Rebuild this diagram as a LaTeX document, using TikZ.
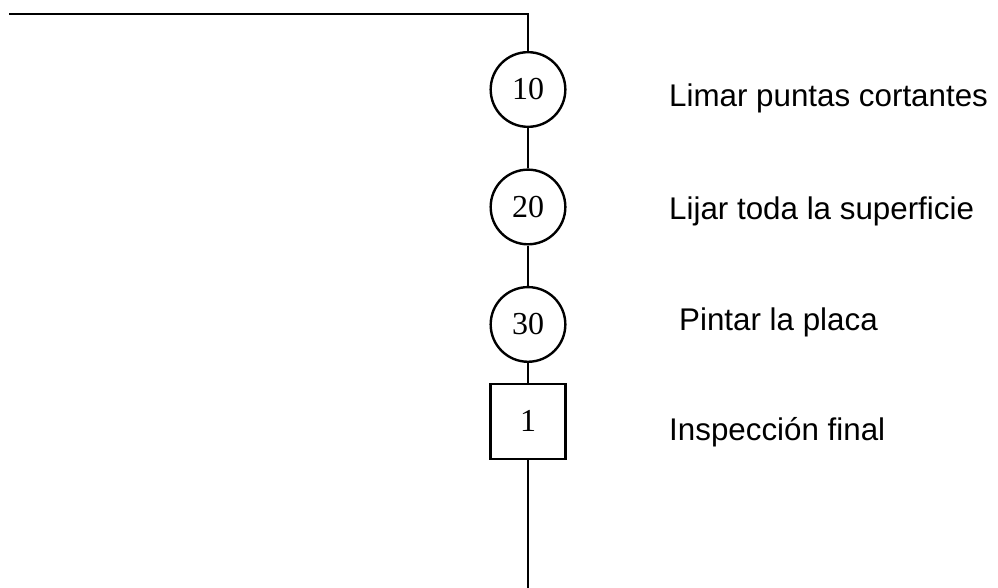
\documentclass[tikz,border=0pt]{standalone}
\usepackage{fontspec}
\setmainfont{Liberation Serif}
\newfontfamily\labelfont{Liberation Sans}

\tikzstyle{oper} = [circle, 
minimum size=56pt,
inner sep=0pt,
text centered,
line width=1.8pt,
draw=black,
font=\fontsize{24}{28}\selectfont]
\tikzstyle{insp} = [rectangle, 
minimum size=56.5pt,
inner sep=0pt,
text centered,
line width=1.8pt,
draw=black,
font=\fontsize{24}{28}\selectfont]
\tikzstyle{desc} = [anchor=base west,
inner sep=0pt,
font=\labelfont\fontsize{23.5}{28}\selectfont]

\begin{document}
\begin{tikzpicture}[x=0.75pt, y=-0.75pt, node distance=88.1pt, line width=1.8pt]
\useasboundingbox (0,0) rectangle (998,588);

\coordinate (start) at (9,14);
\node (op10) [oper] at (528,89.5) {10};
\node (op20) [oper, below of=op10] {20};
\node (op30) [oper, below of=op20] {30};
\node (insp1) [insp, below of=op30, yshift=15.4pt] {1};
\coordinate (finish) at (528,588);

\node (lbl10) [desc] at (668,107) {Limar puntas cortantes};
\node (lbl20) [desc] at (668,219) {Lijar toda la superficie};
\node (lbl30) [desc] at (678,330) {Pintar la placa};
\node (lbl1) [desc] at (668,440) {Inspecci\'on final};

\draw (start) -| (op10);
\draw (op10) -- (op20);
\draw (op20) -- (op30);
\draw (op30) -- (insp1);
\draw (insp1) -- (finish);
\end{tikzpicture}
\end{document}
